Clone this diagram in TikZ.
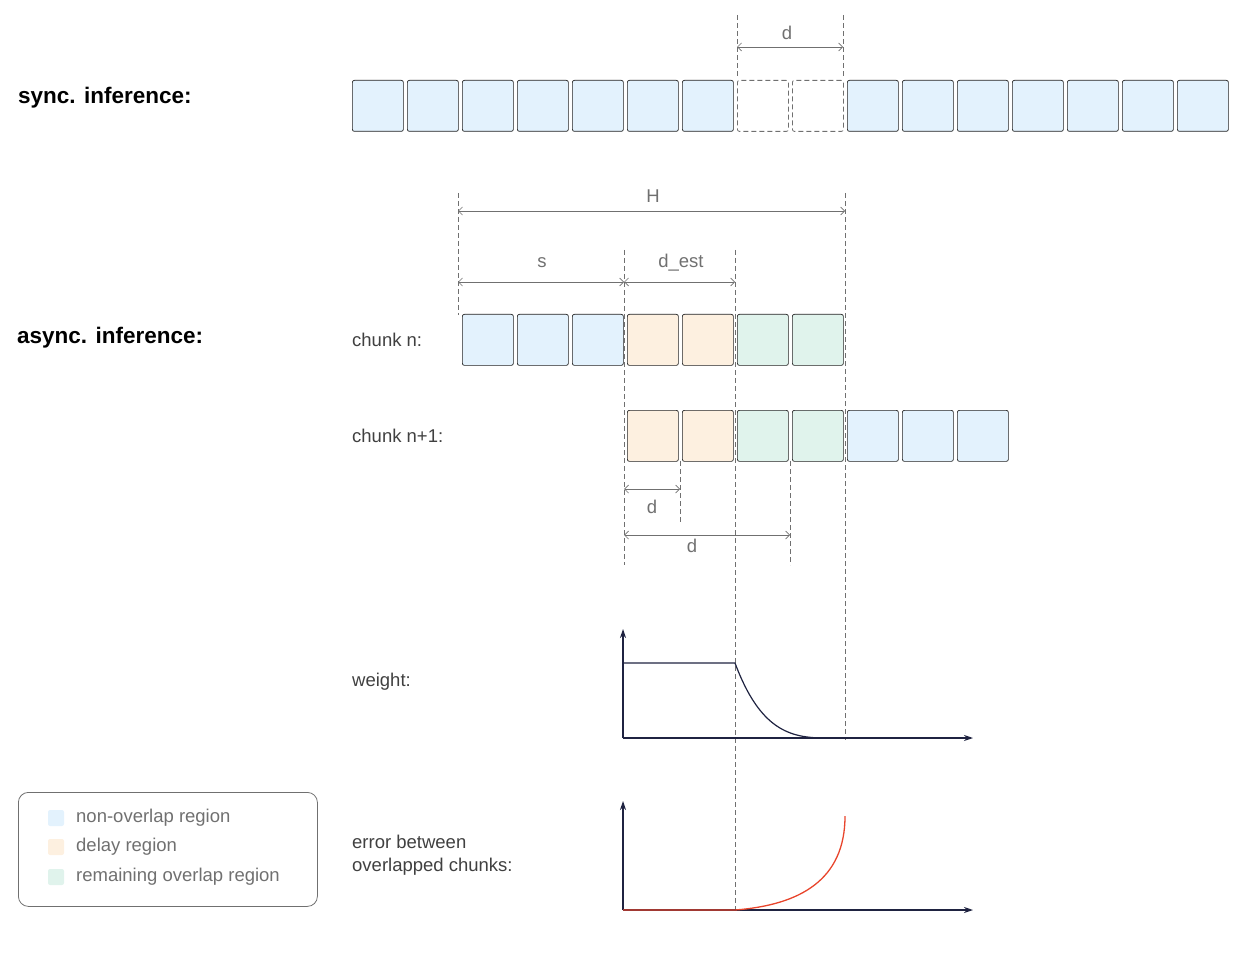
\documentclass[tikz,border=0pt]{standalone}
\usepackage{fontspec}
\setmainfont{Liberation Sans}
\usetikzlibrary{arrows.meta}
\definecolor{bl}{HTML}{E3F2FD}
\definecolor{or}{HTML}{FDF0E0}
\definecolor{gr}{HTML}{E0F3EC}
\definecolor{ax}{HTML}{1F2341}
\definecolor{dim}{HTML}{707070}
\definecolor{ed}{HTML}{222222}
\definecolor{rd}{HTML}{E8452C}
\begin{document}
\begin{tikzpicture}[x=1pt,y=-1pt,
 cell/.style={draw=ed,line width=0.7pt,rounded corners=2pt,minimum width=51pt,minimum height=51pt,inner sep=0pt,anchor=north west},
 ghost/.style={draw=dim,dashed,line width=0.8pt,dash pattern=on 5pt off 3pt,rounded corners=2pt,minimum width=51pt,minimum height=51pt,inner sep=0pt,anchor=north west},
 vl/.style={draw=dim,line width=0.6pt,dash pattern=on 5pt off 3pt},
 dm/.style={draw=dim,line width=0.7pt,{Straight Barb[length=4pt]}-{Straight Barb[length=4pt]}},
 lab/.style={font=\fontsize{18.5}{22}\selectfont,text=dim,inner sep=0pt},
 txt/.style={font=\fontsize{18.5}{23}\selectfont,text=black!75,anchor=west,inner sep=0pt,align=left},
 ttl/.style={font=\fontsize{22.5}{26}\selectfont\bfseries,anchor=west,inner sep=0pt},
 axis/.style={draw=ax,line width=1.2pt,-{Stealth[length=9pt,width=6pt]}}]
\useasboundingbox (0,0) rectangle (1249,957);
% titles
\node[ttl] (t1) at (18,98) {sync. inference:};
\node[ttl] (t2) at (17,338) {async. inference:};
\node[txt] (cn) at (352,340) {chunk n:};
\node[txt] (cn1) at (352,436) {chunk n+1:};
\node[txt] (wt) at (352,682) {weight:};
\node[txt] (er) at (352,855) {error between\\overlapped chunks:};
% sync row
\foreach \i in {0,...,6}{\node[cell,fill=bl] (s\i) at (352+55*\i,80) {};}
\node[ghost] (g1) at (737,80) {};
\node[ghost] (g2) at (792,80) {};
\foreach \i in {9,...,15}{\node[cell,fill=bl] (s\i) at (352+55*\i,80) {};}
% chunk n
\foreach \i/\c in {0/bl,1/bl,2/bl,3/or,4/or,5/gr,6/gr}{\node[cell,fill=\c] (a\i) at (462+55*\i,314) {};}
% chunk n+1
\foreach \i/\c in {0/or,1/or,2/gr,3/gr,4/bl,5/bl,6/bl}{\node[cell,fill=\c] (b\i) at (627+55*\i,410) {};}
% vertical dashed lines
\coordinate (v1t) at (737,15); \coordinate (v1b) at (737,76);
\coordinate (v2t) at (843,15); \coordinate (v2b) at (843,76);
\draw[vl] (v1t)--(v1b); \draw[vl] (v2t)--(v2b);
\coordinate (hLt) at (458,193); \coordinate (hLb) at (458,315);
\coordinate (hRt) at (845,193); \coordinate (hRb) at (845,740);
\draw[vl] (hLt)--(hLb); \draw[vl] (hRt)--(hRb);
\coordinate (pt) at (624,250); \coordinate (pb) at (624,565);
\coordinate (qt) at (735,250); \coordinate (qb) at (735,910);
\draw[vl] (pt)--(pb); \draw[vl] (qt)--(qb);
\coordinate (rt) at (680,461); \coordinate (rb) at (680,522);
\coordinate (ut) at (790,461); \coordinate (ub) at (790,565);
\draw[vl] (rt)--(rb); \draw[vl] (ut)--(ub);
% dimensions
\coordinate (d1a) at (737,47); \coordinate (d1b) at (843,47);
\draw[dm] (d1a)--(d1b); \node[lab] (d1) at (787,33) {d};
\coordinate (Ha) at (458,211); \coordinate (Hb) at (845,211);
\draw[dm] (Ha)--(Hb); \node[lab] (H) at (653,196) {H};
\coordinate (sa) at (458,282); \coordinate (sb) at (624,282); \coordinate (sc) at (735,282);
\draw[dm] (sa)--(sb); \node[lab] (s) at (542,263) {s};
\draw[dm] (sb)--(sc); \node[lab] (de) at (681,263) {d\_est};
\coordinate (e1a) at (624,489); \coordinate (e1b) at (680,489);
\draw[dm] (e1a)--(e1b); \node[lab] (d2) at (652,507) {d};
\coordinate (e2a) at (624,535); \coordinate (e2b) at (790,535);
\draw[dm] (e2a)--(e2b); \node[lab] (d3) at (692,546) {d};
% weight chart
\coordinate (o1) at (623,738); \coordinate (y1) at (623,629); \coordinate (x1) at (973,738);
\draw[axis] (o1)--(y1); \draw[axis] (o1)--(x1);
\draw[ax,line width=1.2pt] (623,663)--(735,663) .. controls (760,730) and (790,738) .. (825,738);
% error chart
\coordinate (o2) at (623,910); \coordinate (y2) at (623,801); \coordinate (x2) at (973,910);
\draw[axis] (o2)--(y2); \draw[axis] (o2)--(x2);
\draw[rd,line width=1.3pt] (623,910)--(735,910) .. controls (800,905) and (845,880) .. (845,816);
% legend
\node[draw=dim,rounded corners=10pt,minimum width=299pt,minimum height=114pt,anchor=north west,line width=0.8pt] (leg) at (18,792) {};
\foreach \y/\c/\t in {818/bl/non-overlap region,847/or/delay region,877/gr/remaining overlap region}{
 \node[fill=\c,rounded corners=2pt,minimum size=16pt,inner sep=0pt] at (56,\y) {};
 \node[txt,text=dim] at (76,\y) {\t};}
\end{tikzpicture}
\end{document}
